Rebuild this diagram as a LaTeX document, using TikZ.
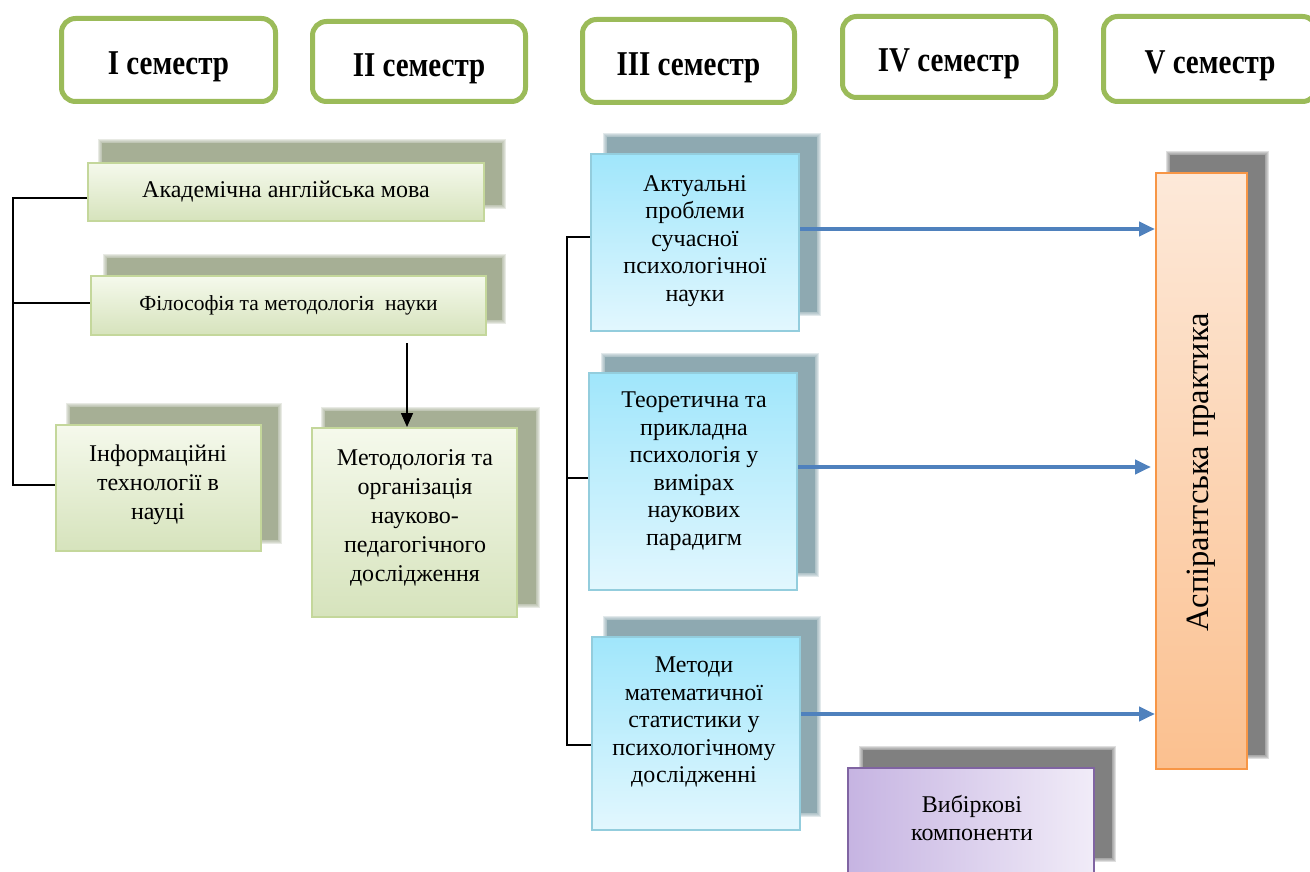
\documentclass[tikz,border=0pt]{standalone}
\usepackage{fontspec}
\setmainfont{Liberation Serif}
\usetikzlibrary{arrows.meta,calc}
\definecolor{hgreen}{HTML}{9BBB59}
\definecolor{gborder}{HTML}{C4D79B}
\definecolor{gtop}{HTML}{F5F9EC}
\definecolor{gbot}{HTML}{D6E3BC}
\definecolor{gshadow}{HTML}{A6AF95}
\definecolor{bborder}{HTML}{93CDDD}
\definecolor{btop}{HTML}{A0E6FB}
\definecolor{bbot}{HTML}{E2F7FE}
\definecolor{bshadow}{HTML}{8EA9B1}
\definecolor{oborder}{HTML}{F79646}
\definecolor{otop}{HTML}{FDE9D9}
\definecolor{obot}{HTML}{FBC08F}
\definecolor{pborder}{HTML}{8064A2}
\definecolor{pleft}{HTML}{C6B4E2}
\definecolor{pright}{HTML}{F1ECF8}
\definecolor{gshade}{HTML}{808080}
\definecolor{arrblue}{HTML}{4F81BD}
\newcommand\softsh[5]{%
  \foreach \k in {4,3,2,1}{\fill[#1, opacity=0.25] (#2-\k,#3-\k) rectangle (#4+\k,#5+\k);}%
  \fill[#1] (#2,#3) rectangle (#4,#5);}
\newcommand\hdtext[1]{\scalebox{1}[1.2]{#1}}
\begin{document}
\begin{tikzpicture}[x=1pt,y=-1pt,
  hdr/.style={draw=hgreen, line width=5pt, rounded corners=14pt, fill=white, inner sep=0pt,
    text height=30pt, text depth=0pt, font=\bfseries\fontsize{29}{32}\selectfont},
  gbox/.style={draw=gborder, line width=2pt, top color=gtop, bottom color=gbot, inner sep=0pt},
  bbox/.style={draw=bborder, line width=2pt, top color=btop, bottom color=bbot, inner sep=0pt},
  obox/.style={draw=oborder, line width=2pt, top color=otop, bottom color=obot, inner sep=0pt},
  pbox/.style={draw=pborder, line width=2pt, left color=pleft, right color=pright, inner sep=0pt},
  txt/.style={align=center, inner sep=0pt, font=\fontsize{24}{29}\selectfont},
  btxt/.style={align=center, inner sep=0pt, font=\fontsize{24}{27.5}\selectfont},
  conn/.style={draw=black, line width=1.6pt},
  barrow/.style={draw=arrblue, line width=4pt, -{Triangle[length=16pt,width=14pt]}},
  karrow/.style={draw=black, line width=1.6pt, -{Triangle[length=14pt,width=12pt]}}
]
\useasboundingbox (0,0) rectangle (1310,872);
\clip (0,0) rectangle (1310,872);
\fill[white] (0,0) rectangle (1310,872);

% semester headers
\node[hdr, minimum width=214, minimum height=83] (s1) at (168.5,60) {\hdtext{I семестр}};
\node[hdr, minimum width=213, minimum height=80] (s2) at (419,61.5) {\hdtext{II семестр}};
\node[hdr, minimum width=212, minimum height=83] (s3) at (688.5,61) {\hdtext{III семестр}};
\node[hdr, minimum width=213, minimum height=81] (s4) at (949,57) {\hdtext{IV семестр}};
\node[hdr, minimum width=213, minimum height=85] (s5) at (1210,59) {\hdtext{V семестр}};

% shadows
\softsh{gshadow}{102}{143}{502}{205}
\softsh{gshadow}{107}{258}{502}{320}
\softsh{gshadow}{70}{407}{278}{540}
\softsh{gshadow}{325}{411}{536}{604}
\softsh{bshadow}{607}{137}{817}{312}
\softsh{bshadow}{605}{357}{815}{573}
\softsh{bshadow}{607}{620}{817}{813}
\softsh{gshade}{1170}{155}{1265}{755}
\softsh{gshade}{863}{750}{1112}{858}

% green boxes
\node[gbox, minimum width=396, minimum height=58, font=\fontsize{24}{28}\selectfont] (acad) at (286,192) {Академічна англійська мова};
\node[gbox, minimum width=395, minimum height=59, font=\fontsize{21.5}{25}\selectfont] (phil) at (288.5,305.5) {Філософія та методологія\ \ науки};
\node[gbox, minimum width=205, minimum height=126] (info) at (158.5,488) {};
\node[txt] (infot) at (158,485) {Інформаційні\\технології в\\науці};
\node[gbox, minimum width=205, minimum height=189] (metod) at (414.5,522.5) {};
\node[txt] (metodt) at (415,517.5) {Методологія та\\організація\\науково-\\педагогічного\\дослідження};

% blue boxes
\node[bbox, minimum width=208, minimum height=177] (b1) at (695,242.5) {};
\node[btxt] (b1t) at (695,241) {Актуальні\\проблеми\\сучасної\\психологічної\\науки};
\node[bbox, minimum width=208, minimum height=217] (b2) at (693,481.5) {};
\node[btxt] (b2t) at (694,471) {Теоретична та\\прикладна\\психологія у\\вимірах\\наукових\\парадигм};
\node[bbox, minimum width=208, minimum height=193] (b3) at (696,733.5) {};
\node[btxt] (b3t) at (694,722) {Методи\\математичної\\статистики у\\психологічному\\дослідженні};

% practice box
\node[obox, minimum width=91, minimum height=596] (asp) at (1201.5,471) {};
\node[rotate=90, inner sep=0pt, font=\fontsize{32.5}{36}\selectfont] (aspt) at (1201,472) {Аспірантська практика};

% elective box
\node[pbox, minimum width=246, minimum height=107] (vib) at (971,821) {};
\node[btxt] (vibt) at (972,818) {Вибіркові\\компоненти};

% left bracket
\coordinate (L1) at (13,198);
\coordinate (L2) at (13,303);
\coordinate (L3) at (13,485);
\draw[conn] (acad.west |- L1) -- (L1) -- (L3) -- (info.west |- L3);
\draw[conn] (L2) -- (phil.west |- L2);

% arrow philosophy -> methodology
\coordinate (A0) at (407,343);
\draw[karrow] (A0) -- (A0 |- metod.north);

% right bracket
\coordinate (R1) at (567,237);
\coordinate (R2) at (567,478);
\coordinate (R3) at (567,745);
\draw[conn] (b1.west |- R1) -- (R1) -- (R3) -- (b3.west |- R3);
\draw[conn] (R2) -- (b2.west |- R2);

% blue arrows
\coordinate (ya) at (0,229);
\coordinate (yb) at (0,467);
\coordinate (yc) at (0,714);
\draw[barrow] (b1.east |- ya) -- (asp.west |- ya);
\draw[barrow] (b2.east |- yb) -- ($(asp.west |- yb)+(-4,0)$);
\draw[barrow] (b3.east |- yc) -- (asp.west |- yc);
\end{tikzpicture}
\end{document}
